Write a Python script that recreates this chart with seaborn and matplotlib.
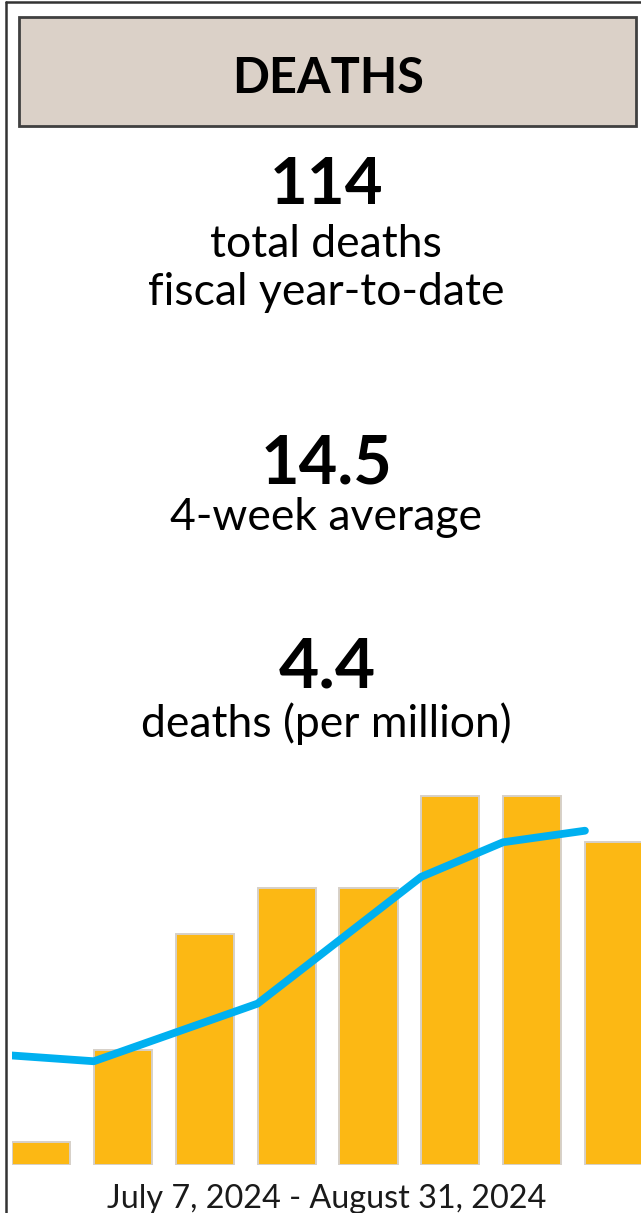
import matplotlib
matplotlib.use('Agg')
import matplotlib.pyplot as plt
from matplotlib.patches import Rectangle
from matplotlib.lines import Line2D
import numpy as np
import seaborn as sns

# weekly deaths, July 7 - August 31, 2024
weeks = ['Jul 7', 'Jul 14', 'Jul 21', 'Jul 28', 'Aug 4', 'Aug 11', 'Aug 18', 'Aug 25']
deaths = [1, 5, 10, 12, 12, 16, 16, 14]
# 4-week rolling average as drawn on the chart
avg_4wk = [4.75, 4.5, 5.75, 7.0, 9.75, 12.5, 14.0, 14.5]

title = 'DEATHS'
stats = [('114', 'total deaths\nfiscal year-to-date'),
         ('14.5', '4-week average'),
         ('4.4', 'deaths (per million)')]
date_range = 'July 7, 2024 - August 31, 2024'

BAR = '#FCB814'
LINE = '#00B0F0'
BOX = '#DBD1C8'

sns.set_style('white')
plt.rcParams['font.family'] = ['Lato', 'DejaVu Sans']

W, H = 641, 1213
fig = plt.figure(figsize=(W / 100, H / 100), dpi=100)


def fx(px):
    return px / W


def fy(py):
    return 1 - py / H


# outer frame (cut off at right and bottom)
fig.add_artist(Line2D([fx(6), fx(6)], [fy(2), fy(H + 5)], color='#333333', lw=1.8))
fig.add_artist(Line2D([fx(6), fx(W + 5)], [fy(2), fy(2)], color='#333333', lw=1.8))

# title box
fig.add_artist(Rectangle((fx(19), fy(126)), fx(636) - fx(19), fy(17) - fy(126),
                         facecolor=BOX, edgecolor='#404040', lw=2.0))
fig.text(fx(328), fy(93), title, ha='center', va='baseline',
         fontsize=35, fontweight='bold', color='black')

num_base = [204, 483, 688]
num_size = [47, 48, 50]
lab_base = [[257, 305], [530], [737]]
for (num, lab), nb, ns, lbs in zip(stats, num_base, num_size, lab_base):
    fig.text(fx(327), fy(nb), num, ha='center', va='baseline',
             fontsize=ns, fontweight='bold', color='black')
    for line, lb in zip(lab.split('\n'), lbs):
        fig.text(fx(326), fy(lb), line, ha='center', va='baseline',
                 fontsize=32, color='black')

# bar + line chart
ax = fig.add_axes([fx(12), fy(1165), fx(641) - fx(12), fy(780) - fy(1165)])
x = np.arange(len(deaths))
width = 0.71
sns.barplot(x=x, y=deaths, color=BAR, width=width, saturation=1,
            edgecolor='#d6d0c8', linewidth=1.4, ax=ax, zorder=2)
sns.lineplot(x=x - width / 2, y=avg_4wk, color=LINE, linewidth=5.6,
             solid_capstyle='round', solid_joinstyle='round', ax=ax, zorder=3)
ax.set_xlim(-width / 2, 7.33)
ax.set_ylim(0, 16.7)
ax.axis('off')

fig.text(fx(327), fy(1208), date_range, ha='center', va='baseline',
         fontsize=23.3, color='#1a1a1a')

fig.savefig('out.png', dpi=100)
